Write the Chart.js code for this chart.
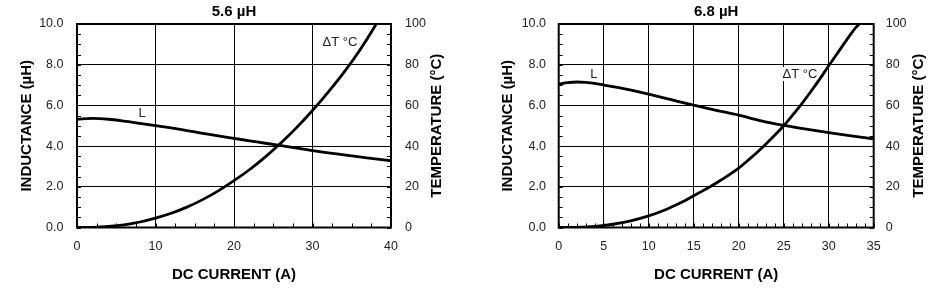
<!DOCTYPE html>
<html><head><meta charset="utf-8">
<script src="https://cdn.jsdelivr.net/npm/chart.js@4.4.0/dist/chart.umd.min.js"></script>
<style>
html,body{margin:0;padding:0;background:#fff;}
#wrap{position:relative;width:929px;height:291px;overflow:hidden;}
.box{position:absolute;top:0;height:291px;}
canvas{display:block;}
</style></head><body>
<div id="wrap">
<div class="box" style="left:0;width:465px"><canvas id="c1" width="465" height="291"></canvas></div>
<div class="box" style="left:465px;width:464px"><canvas id="c2" width="464" height="291"></canvas></div>
</div>
<script>
// ---------- data: 5.6 µH ----------
const title1 = '5.6 µH';
const indX1 = [0,2,4,6,8,10,12,14,16,18,20,22,24,26,28,30,32,34,36,38,40];
const ind1  = [5.33,5.36,5.32,5.23,5.12,5.01,4.89,4.76,4.63,4.5,4.38,4.26,4.14,4.02,3.9,3.78,3.67,3.57,3.47,3.37,3.28];
const tmpX1 = [0,2,4,6,8,10,12,14,16,18,20,22,24,26,28,30,32,34,36,38,38.1];
const tmp1  = [0,0.1,0.5,1.3,2.7,4.6,7,10,13.7,18,23,28.5,34.7,41.6,49.2,57.5,66.5,76.2,87,99.3,100];
const xMax1 = 40, xStep1 = 10, xMinor1 = 2.5;

// ---------- data: 6.8 µH ----------
const title2 = '6.8 µH';
const indX2 = [0,1,2,3,4,5,7.5,10,12.5,15,17.5,20,22.5,25,27.5,30,32.5,35];
const ind2  = [7.05,7.12,7.15,7.13,7.08,7.0,6.8,6.55,6.28,6.01,5.76,5.52,5.24,5.02,4.83,4.66,4.5,4.35];
const tmpX2 = [0,2,4,5,6,8,10,12,14,15,16,17,18,20,21,22,23,24,25,26,27,28,29,30,31,32,33,33.4];
const tmp2  = [0,0.1,0.5,1.0,1.6,3.3,5.7,9.0,13.1,15.6,18,20.5,23.2,29.2,32.9,36.7,40.9,45.3,50,55.3,60.8,66.7,72.9,79.5,85.8,92.2,98.2,100];
const xMax2 = 35, xStep2 = 5, xMinor2 = 1;

// shared axis ticks
const indMin = 0, indMax = 10, indStep = 2, indMinor = 0.5;
const tmpMin = 0, tmpMax = 100, tmpStep = 20;
const xTitle = 'DC CURRENT (A)';
const yTitle = 'INDUCTANCE (µH)';
const y2Title = 'TEMPERATURE (°C)';

const FONT = '"Liberation Sans", Arial, Helvetica, sans-serif';
const TICK = 12.5;

function zip(xs, ys){ return xs.map((x,i)=>({x:x, y:ys[i]})); }

function makeChart(id, o){
  const W = o.W, H = 291;
  const deco = {
    id:'deco'+id,
    beforeDatasetsDraw(chart){
      const ctx = chart.ctx, a = chart.chartArea;
      const xs = chart.scales.x, ys = chart.scales.y;
      ctx.save();
      // curve labels with white backing
      ctx.font = '13px ' + FONT;
      ctx.textAlign = 'center'; ctx.textBaseline = 'middle';
      o.labels.forEach(l=>{
        const px = xs.getPixelForValue(l.x), py = ys.getPixelForValue(l.y);
        const w = ctx.measureText(l.t).width;
        ctx.fillStyle = '#fff';
        ctx.fillRect(px - w/2 - 2, py - 7, w + 4, 14);
        ctx.fillStyle = '#222';
        ctx.fillText(l.t, px, py);
      });
      // minor ticks
      ctx.strokeStyle = '#000'; ctx.lineWidth = 1;
      ctx.beginPath();
      for (let v = xs.min; v <= xs.max + 1e-9; v += o.xMinor){
        const px = Math.round(xs.getPixelForValue(v)) + 0.5;
        ctx.moveTo(px, a.bottom); ctx.lineTo(px, a.bottom - 4);
      }
      for (let v = ys.min; v <= ys.max + 1e-9; v += indMinor){
        const py = Math.round(ys.getPixelForValue(v)) + 0.5;
        ctx.moveTo(a.left, py); ctx.lineTo(a.left + 4, py);
        ctx.moveTo(a.right, py); ctx.lineTo(a.right - 4, py);
      }
      ctx.stroke();
      // frame
      ctx.lineWidth = 2;
      ctx.strokeRect(a.left, a.top, a.right - a.left, a.bottom - a.top);
      ctx.restore();
    },
    afterDraw(chart){
      const ctx = chart.ctx, a = chart.chartArea;
      ctx.save();
      ctx.fillStyle = '#000';
      ctx.font = 'bold 15px ' + FONT;
      ctx.textAlign = 'center'; ctx.textBaseline = 'middle';
      ctx.fillText(o.title, (a.left + a.right)/2, 11.5);
      ctx.translate(o.y2TitleX, (a.top + a.bottom)/2);
      ctx.rotate(-Math.PI/2);
      ctx.fillText(y2Title, 0, 0);
      ctx.restore();
    }
  };
  return new Chart(document.getElementById(id), {
    type:'line',
    data:{datasets:[
      {data:zip(o.indX, o.ind), yAxisID:'y', borderColor:'#000', borderWidth:2.8, pointRadius:0, cubicInterpolationMode:'monotone', fill:false},
      {data:zip(o.tmpX, o.tmp), yAxisID:'y2', borderColor:'#000', borderWidth:2.8, pointRadius:0, cubicInterpolationMode:'monotone', fill:false}
    ]},
    options:{
      responsive:false, animation:false, devicePixelRatio:1,
      layout:{padding:{top:24, left:0, right:0, bottom:0}},
      plugins:{legend:{display:false}, tooltip:{enabled:false}, title:{display:false}},
      scales:{
        x:{type:'linear', position:'bottom', min:0, max:o.xMax,
          ticks:{stepSize:o.xStep, padding:12, color:'#222', font:{family:FONT, size:TICK}, maxRotation:0, autoSkip:false},
          grid:{color:'#000', lineWidth:1, drawTicks:false},
          border:{display:false},
          title:{display:true, text:xTitle, color:'#000', font:{family:FONT, size:15, weight:'bold'}, padding:{top:0, bottom:6.7}},
          afterFit(s){ s.height = H - o.bottom; }
        },
        y:{type:'linear', position:'left', min:indMin, max:indMax,
          ticks:{stepSize:indStep, padding:o.yPad, color:'#222', font:{family:FONT, size:TICK}, callback:v=>Number(v).toFixed(1)},
          grid:{color:'#000', lineWidth:1, drawTicks:false},
          border:{display:false},
          title:{display:true, text:yTitle, color:'#000', font:{family:FONT, size:15, weight:'bold'}, padding:{top:o.yTitlePad, bottom:0}},
          afterFit(s){ s.width = o.left; }
        },
        y2:{type:'linear', position:'right', min:tmpMin, max:tmpMax,
          ticks:{stepSize:tmpStep, padding:o.y2Pad, color:'#222', font:{family:FONT, size:TICK}},
          grid:{drawOnChartArea:false, drawTicks:false},
          border:{display:false},
          afterFit(s){ s.width = W - o.right; }
        }
      }
    },
    plugins:[deco]
  });
}

makeChart('c1', {W:465, title:title1, indX:indX1, ind:ind1, tmpX:tmpX1, tmp:tmp1,
  xMax:xMax1, xStep:xStep1, xMinor:xMinor1,
  left:77, right:391, bottom:227.5, yPad:13.5, y2Pad:14, yTitlePad:17.7, y2TitleX:436.7,
  labels:[{t:'L', x:8.3, y:5.6}, {t:'ΔT °C', x:33.5, y:9.09}]});
makeChart('c2', {W:464, title:title2, indX:indX2, ind:ind2, tmpX:tmpX2, tmp:tmp2,
  xMax:xMax2, xStep:xStep2, xMinor:xMinor2,
  left:93.7, right:408.7, bottom:227.5, yPad:12.7, y2Pad:12, yTitlePad:34.3, y2TitleX:454,
  labels:[{t:'L', x:3.9, y:7.52}, {t:'ΔT °C', x:26.8, y:7.54}]});
</script>
</body></html>
